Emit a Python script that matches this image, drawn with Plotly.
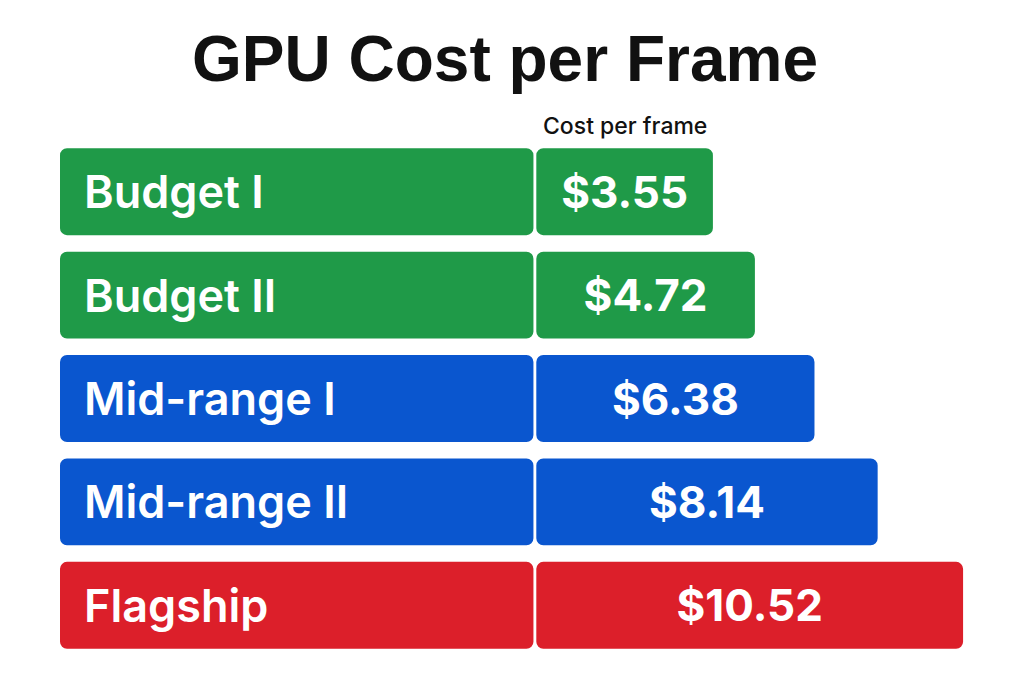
import plotly.graph_objects as go

# ---- data ----
categories = ["Budget I", "Budget II", "Mid-range I", "Mid-range II", "Flagship"]
cost_per_frame = [3.55, 4.72, 6.38, 8.14, 10.52]
colors = ["#1f9a48", "#1f9a48", "#0a56cf", "#0a56cf", "#dc1f2a"]
value_labels = [f"${v:.2f}" for v in cost_per_frame]

# ---- layout constants (style) ----
XMIN = -14.64      # left end of label zone (axis units)
XMAX = 11.66
DIV = -1.41        # divider between label zone and value zone
GAP = 0.08         # white divider width (axis units)

fig = go.Figure()

# label segment (drawn as negative bar so its rounded end is on the left)
fig.add_trace(go.Bar(
    orientation="h", y=categories,
    x=[XMIN - (DIV - GAP / 2)] * len(categories),
    base=DIV - GAP / 2,
    marker=dict(color=colors, cornerradius=7, line=dict(width=0)),
    hoverinfo="skip", showlegend=False,
))
# value segment
fig.add_trace(go.Bar(
    orientation="h", y=categories,
    x=[v - (DIV + GAP / 2) for v in cost_per_frame],
    base=DIV + GAP / 2,
    marker=dict(color=colors, cornerradius=7, line=dict(width=0)),
    text=value_labels, textposition="inside", insidetextanchor="middle",
    constraintext="none",
    textfont=dict(family="Inter", size=44, color="white", weight=700),
    hoverinfo="skip", showlegend=False,
))

annotations = []
for c in categories:
    annotations.append(dict(
        x=XMIN, y=c, xref="x", yref="y", xanchor="left", yanchor="middle",
        xshift=22, text=c, showarrow=False,
        font=dict(family="Inter", size=45, color="white", weight=600),
    ))
annotations.append(dict(
    x=(625 - 60) / 944, y=(657 - 126) / 517, xref="paper", yref="paper",
    xanchor="center", yanchor="middle", text="Cost per frame", showarrow=False,
    font=dict(family="Inter", size=23, color="#111111", weight=500),
))

fig.update_layout(
    width=1024, height=683,
    margin=dict(l=60, r=20, t=140, b=26),
    paper_bgcolor="white", plot_bgcolor="white",
    barmode="overlay", bargap=0.16,
    title=dict(text="<b>GPU Cost per Frame</b>", x=505 / 1024, xanchor="center",
               y=1 - 59 / 683, yanchor="middle", yref="container",
               font=dict(family="Liberation Sans", size=64, color="#111111")),
    xaxis=dict(range=[XMIN, XMAX], visible=False, fixedrange=True),
    yaxis=dict(categoryorder="array", categoryarray=categories,
               range=[4.5, -0.5], visible=False, fixedrange=True),
    annotations=annotations,
)

fig.write_html("out.html")
